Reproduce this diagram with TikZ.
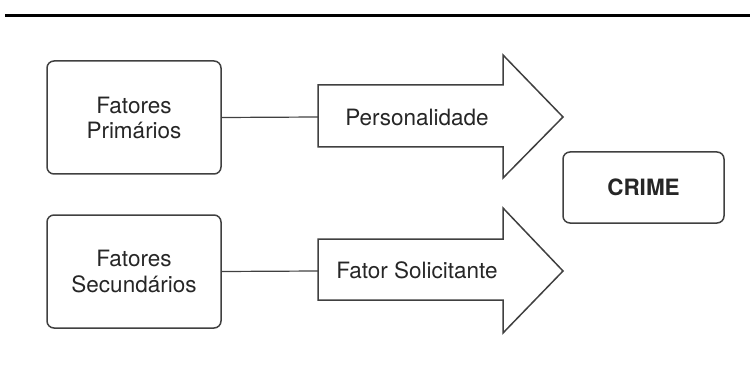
\documentclass[tikz,border=0pt]{standalone}
\usepackage{fontspec}
\setmainfont{TeX Gyre Heros}
\begin{document}
\begin{tikzpicture}[x=1pt,y=-1pt,
  box/.style={draw=black!75,line width=1.5pt,rounded corners=7pt,fill=white,inner sep=0pt},
  lbl/.style={font=\fontsize{22.5}{25}\selectfont,align=center,text=black!85},
  fat/.style={draw=black!75,line width=1.5pt,fill=white,line join=miter},
  conn/.style={draw=black!75,line width=1.2pt}]
\useasboundingbox (0,0) rectangle (750,377);
\fill[black] (5,14) rectangle (750,17.5);
% boxes
\node[box,minimum width=174pt,minimum height=113pt] (p) at (134,117.5) {};
\node[lbl] at (p.center) {Fatores\\Primários};
\node[box,minimum width=174pt,minimum height=113pt] (s) at (134,271.5) {};
\node[lbl] at (s.center) {Fatores\\Secundários};
\node[box,minimum width=161pt,minimum height=71pt] (c) at (643.5,187.5) {};
\node[lbl,font=\fontsize{22.5}{25}\selectfont\bfseries] at (c.center) {CRIME};
% arrows
\coordinate (a1) at (318,117);
\coordinate (a2) at (318,271);
\draw[fat] (318,85) -- (503,85) -- (503,55) -- (563,117) -- (503,178) -- (503,147) -- (318,147) -- cycle;
\draw[fat] (318,239) -- (503,239) -- (503,208) -- (563,271) -- (503,333) -- (503,300) -- (318,300) -- cycle;
\node[lbl] (t1) at (417,117) {Personalidade};
\node[lbl] (t2) at (417,270) {Fator Solicitante};
\draw[conn] (p.east) -- (a1);
\draw[conn] (s.east) -- (a2);
\end{tikzpicture}
\end{document}
